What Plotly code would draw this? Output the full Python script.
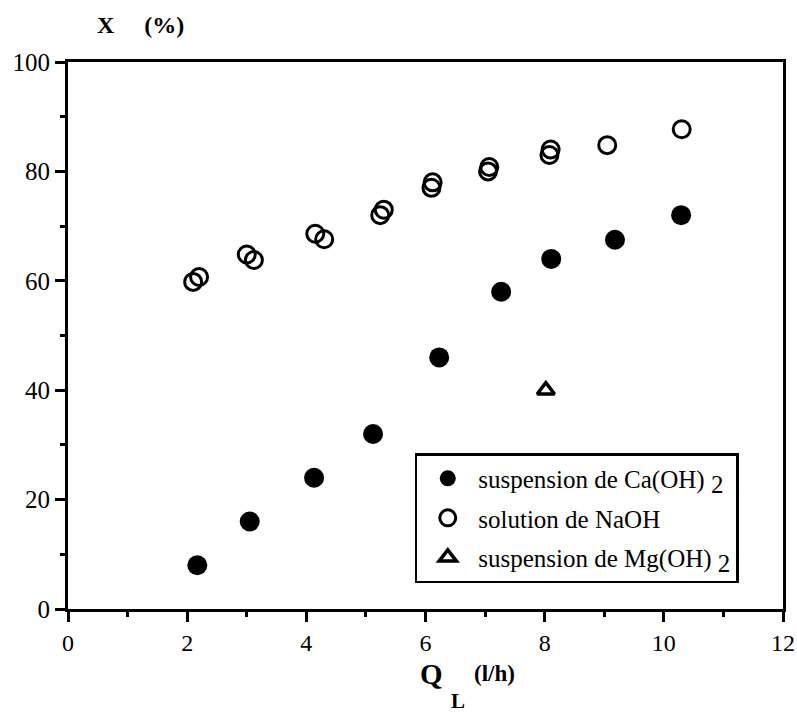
import plotly.graph_objects as go

# Data
ca_x = [2.17, 3.05, 4.13, 5.12, 6.23, 7.27, 8.11, 9.18, 10.29]
ca_y = [8.0, 16.0, 24.0, 32.0, 46.0, 58.0, 64.0, 67.5, 72.0]

naoh_x = [2.1, 2.2, 3.0, 3.12, 4.15, 4.3, 5.24, 5.3, 6.1, 6.12, 7.05, 7.07, 8.08, 8.1, 9.05, 10.3]
naoh_y = [59.8, 60.7, 64.8, 63.8, 68.6, 67.6, 72.0, 73.0, 77.0, 78.0, 80.0, 80.8, 83.0, 84.0, 84.8, 87.7]

mg_x = [8.02]
mg_y = [40.0]

x_ticks = [0, 2, 4, 6, 8, 10, 12]
y_ticks = [0, 20, 40, 60, 80, 100]

FONT = "Liberation Serif, Times New Roman, serif"
SUB2 = "&nbsp;<sub><span style='font-size:25px'>2</span></sub>"

fig = go.Figure()
fig.add_trace(go.Scatter(
    x=ca_x, y=ca_y, mode="markers", name="suspension de Ca(OH)" + SUB2,
    legendgroup="a",
    marker=dict(symbol="circle", size=20, color="black"),
))
fig.add_trace(go.Scatter(
    x=naoh_x, y=naoh_y, mode="markers", name="solution de NaOH",
    legendgroup="b",
    marker=dict(symbol="circle-open", size=17, color="black", line=dict(width=3, color="black")),
))
fig.add_trace(go.Scatter(
    x=mg_x, y=mg_y, mode="markers", name="suspension de Mg(OH)" + SUB2,
    legendgroup="c",
    marker=dict(symbol="triangle-up-open", size=15, color="black", line=dict(width=3.5, color="black")),
))

axis_common = dict(
    showline=True, linecolor="black", linewidth=3, mirror=True,
    showgrid=False, zeroline=False, automargin=False,
    ticks="outside", ticklen=10, tickwidth=2.5, tickcolor="black",
)

fig.update_xaxes(range=[0, 12], tickvals=x_ticks,
                 tickfont=dict(family=FONT, size=24, color="black"),
                 minor=dict(ticks="outside", ticklen=5, tickwidth=2.5, tickcolor="black", dtick=1),
                 **axis_common)
fig.update_yaxes(range=[0, 100], tickvals=y_ticks,
                 tickfont=dict(family=FONT, size=25, color="black"),
                 minor=dict(ticks="outside", ticklen=5, tickwidth=2.5, tickcolor="black", dtick=10),
                 **axis_common)

# Axis titles (y title above the axis, x title below)
fig.add_annotation(text="<b>X&nbsp;&nbsp;&nbsp;&nbsp;&nbsp;(%)</b>", xref="paper", yref="paper",
                   x=0.038, y=1.068, xanchor="left", yanchor="middle", showarrow=False,
                   font=dict(family=FONT, size=24, color="black"))
fig.add_annotation(text="<b>Q</b>", xref="paper", yref="paper",
                   x=0.508, y=-0.119, xanchor="center", yanchor="middle", showarrow=False,
                   font=dict(family=FONT, size=29, color="black"))
fig.add_annotation(text="<b>L</b>", xref="paper", yref="paper",
                   x=0.546, y=-0.169, xanchor="center", yanchor="middle", showarrow=False,
                   font=dict(family=FONT, size=21, color="black"))
fig.add_annotation(text="<b>(l/h)</b>", xref="paper", yref="paper",
                   x=0.596, y=-0.118, xanchor="center", yanchor="middle", showarrow=False,
                   font=dict(family=FONT, size=23, color="black"))

fig.update_layout(
    template="none",
    width=797, height=718,
    margin=dict(l=68, r=14, t=62, b=109),
    paper_bgcolor="white", plot_bgcolor="white",
    showlegend=True,
    legend=dict(
        x=0.485, y=0.285, xanchor="left", yanchor="top",
        bgcolor="white", bordercolor="black", borderwidth=2.5,
        font=dict(family=FONT, size=25, color="black"),
        itemwidth=51, tracegroupgap=4,
    ),
)

fig.write_html(
    "out.html",
    config={"displayModeBar": False},
    post_script="document.body.style.margin='0';document.body.style.overflow='hidden';",
)
